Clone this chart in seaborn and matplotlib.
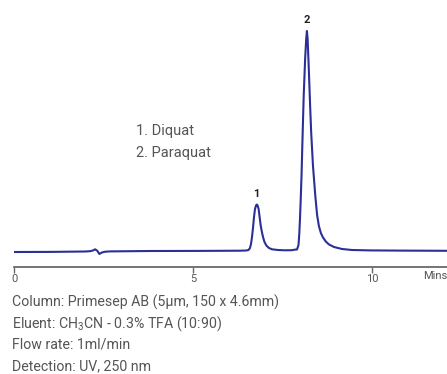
import matplotlib
matplotlib.use("Agg")
import matplotlib.pyplot as plt
import seaborn as sns
import pandas as pd

# Chromatogram trace (time in min, signal in mAU, arbitrary scale)
time_min = [0.00, 1.00, 1.98, 2.12, 2.20, 2.26, 2.32, 2.38, 2.45, 2.54, 2.68,
            3.80, 5.19, 6.31, 6.49,
            6.551, 6.593, 6.621, 6.649, 6.677, 6.705, 6.733, 6.761, 6.783, 6.806,
            6.834, 6.862, 6.890, 6.920, 6.957, 6.998, 7.054, 7.124, 7.208, 7.376,
            7.572, 7.768, 7.852,
            7.908, 7.950, 7.973, 7.992, 8.011, 8.034, 8.060, 8.095, 8.135, 8.165, 8.185,
            8.205, 8.240, 8.275, 8.305, 8.355, 8.420, 8.470, 8.520, 8.575, 8.635,
            8.713, 8.803, 8.943, 9.167, 9.446, 9.950, 10.79, 12.10]
signal_mau = [-1.0, -0.9, -0.5, -0.2, 0.5, 1.7, 0.3, -3.0, -1.5, -0.7, -0.4,
              0.0, 0.1, 0.3, 0.5,
              1.0, 3.0, 7.0, 14.0, 23.0, 34.0, 42.0, 45.5, 46.5, 45.5,
              42.0, 34.0, 26.0, 20.0, 14.0, 9.0, 5.3, 3.0, 1.7, 1.0,
              0.7, 0.8, 1.4,
              1.5, 6.0, 18.0, 33.0, 51.0, 75.0, 110.0, 155.0, 192.0, 212.0, 220.0,
              212.0, 180.0, 145.0, 118.0, 85.0, 55.0, 36.0, 25.0, 18.0, 13.5,
              9.5, 6.5, 4.0, 2.0, 1.0, 0.6, 0.4, 0.2]

tick_values = [0, 5, 10]
tick_labels = ["0", "5", "10"]
peak_labels = ["1", "2"]
peak_times = [6.783, 8.185]
peak_heights = [46.5, 220.0]
compounds = ["1. Diquat", "2. Paraquat"]
conditions = ["Column: Primesep AB (5µm, 150 x 4.6mm)",
              "Eluent: CH$_3$CN - 0.3% TFA (10:90)",
              "Flow rate: 1ml/min",
              "Detection: UV, 250 nm"]

df = pd.DataFrame({"time": time_min, "signal": signal_mau})

sns.set_theme(style="white")
FONT = ["Roboto", "DejaVu Sans"]
plt.rcParams["font.family"] = FONT
plt.rcParams["mathtext.fontset"] = "custom"
plt.rcParams["mathtext.rm"] = "Roboto"
plt.rcParams["mathtext.default"] = "regular"

W, H = 447, 374
fig = plt.figure(figsize=(W / 100, H / 100), dpi=100)
x0 = 14.3
ax_bottom_px = 266.7
ax_top_px = 10
ax = fig.add_axes([x0 / W, 1 - ax_bottom_px / H, (W - x0) / W, (ax_bottom_px - ax_top_px) / H])

line_color = "#2b2f96"
sns.lineplot(data=df, x="time", y="signal", ax=ax, color=line_color,
             linewidth=1.5, estimator=None, sort=False)

ax.set_xlim(0, (W - x0) / 35.75)
ax.set_ylim(-(ax_bottom_px - 251), 251 - ax_top_px)

for s in ["left", "top", "right"]:
    ax.spines[s].set_visible(False)
gray = "#555555"
ax.spines["bottom"].set_color("#6a6a6a")
ax.spines["bottom"].set_linewidth(1.3)
ax.set_yticks([])
ax.set_xticks(tick_values)
ax.set_xticklabels(tick_labels)
ax.tick_params(axis="x", direction="out", length=4, width=1.0, color="#6a6a6a",
               labelsize=8, labelcolor=gray, pad=1.5, bottom=True)
ax.set_xlabel("")
ax.set_ylabel("")
ax.text(1.0, -0.015, "Mins", transform=ax.transAxes, ha="right", va="top",
        fontsize=8, color=gray)

for lab, t, h in zip(peak_labels, peak_times, peak_heights):
    ax.annotate(lab, xy=(t, h), xytext=(0, 4), textcoords="offset points",
                ha="center", va="bottom", fontsize=8, fontweight="bold", color="#222222")

for i, c in enumerate(compounds):
    fig.text(136 / W, 1 - (131 + i * 22) / H, c, ha="left", va="center",
             fontsize=10.5, color=gray)

for i, c in enumerate(conditions):
    fig.text(12 / W, 1 - (302 + i * 21.3) / H, c, ha="left", va="center",
             fontsize=10.2, color=gray)

fig.savefig("out.png", dpi=100)
